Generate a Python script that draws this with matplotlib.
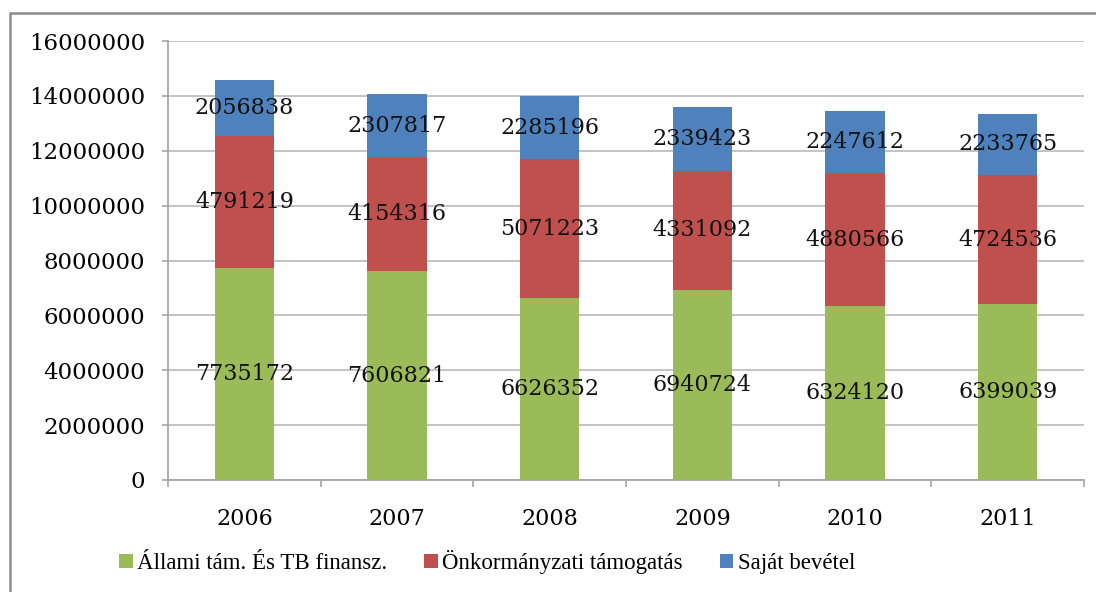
import numpy as np
import matplotlib.pyplot as plt
from matplotlib.patches import Rectangle

# Yearly revenue breakdown (Ft)
years = ['2006', '2007', '2008', '2009', '2010', '2011']
allami = [7735172, 7606821, 6626352, 6940724, 6324120, 6399039]
onkorm = [4791219, 4154316, 5071223, 4331092, 4880566, 4724536]
sajat = [2056838, 2307817, 2285196, 2339423, 2247612, 2233765]
series_names = ['Állami tám. És TB finansz.', 'Önkormányzati támogatás', 'Saját bevétel']
colors = ['#9BBB59', '#C0504D', '#4F81BD']

plt.rcParams['font.family'] = ['DejaVu Serif']

fig = plt.figure(figsize=(10.96, 5.92), dpi=100)
ax = fig.add_axes([168 / 1096, 1 - 480 / 592, (1084 - 168) / 1096, (480 - 41) / 592])

x = np.arange(len(years))
bottom = np.zeros(len(years))
bars = []
for vals, col, name in zip([allami, onkorm, sajat], colors, series_names):
    b = ax.bar(x, vals, width=0.39, bottom=bottom, color=col, label=name, zorder=3)
    bars.append(b)
    # value label in the middle of each segment
    for xi, v, b0 in zip(x, vals, bottom):
        ax.text(xi, b0 + v / 2, str(v), ha='center', va='center',
                fontsize=16, color='#111111', zorder=4)
    bottom += np.array(vals)

ax.set_xlim(-0.5, len(years) - 0.5)
ax.set_ylim(0, 16000000)
ax.set_yticks(np.arange(0, 16000001, 2000000))
ax.set_yticklabels([str(v) for v in range(0, 16000001, 2000000)])
ax.yaxis.grid(True, color='#BEBEBE', linewidth=1.3, zorder=0)
ax.set_axisbelow(True)

# category labels centred, tick marks between categories
ax.set_xticks(x)
ax.set_xticklabels(years)
ax.set_xticks(np.arange(-0.5, len(years)), minor=True)
ax.tick_params(axis='x', which='major', length=0, pad=20, labelsize=16)
ax.tick_params(axis='x', which='minor', length=5, width=1.2, color='#A6A6A6', direction='out')
ax.tick_params(axis='y', length=4.5, width=1.2, color='#A6A6A6', pad=12, labelsize=16.5)

for s in ['top', 'right']:
    ax.spines[s].set_visible(False)
for s in ['left', 'bottom']:
    ax.spines[s].set_color('#A6A6A6')
    ax.spines[s].set_linewidth(1.3)

leg = fig.legend(handles=bars, labels=series_names, loc='center',
                 bbox_to_anchor=(487 / 1096, 1 - 562 / 592), ncol=3, frameon=False,
                 prop={'family': 'Liberation Serif', 'size': 16.5},
                 handlelength=0.6, handleheight=0.6, handletextpad=0.2,
                 columnspacing=1.6)

# outer chart frame
fig.patches.append(Rectangle((10 / 1096, -0.1), 1.2, 1 - 13 / 592 + 0.1,
                             transform=fig.transFigure, fill=False,
                             edgecolor='#8C8C8C', linewidth=1.8))

fig.savefig('out.png', dpi=100)
